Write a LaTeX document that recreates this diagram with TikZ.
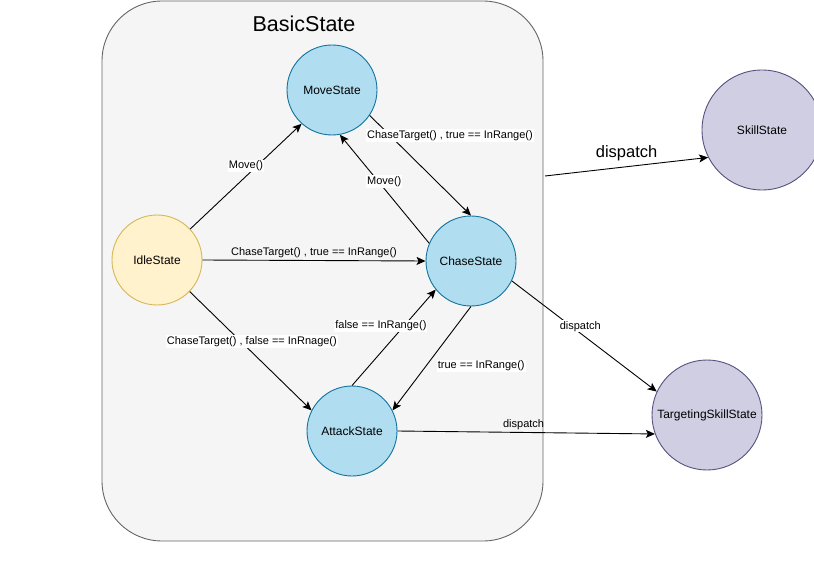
\documentclass[tikz,border=0pt]{standalone}
\usepackage{fontspec}
\setmainfont{Liberation Sans}
\usetikzlibrary{arrows.meta}
\definecolor{boxfill}{HTML}{F5F5F5}
\definecolor{boxline}{HTML}{666666}
\definecolor{bluefill}{HTML}{B1DDF0}
\definecolor{blueline}{HTML}{10739E}
\definecolor{yellowfill}{HTML}{FFF2CC}
\definecolor{yellowline}{HTML}{D6B656}
\definecolor{purplefill}{HTML}{D0CEE2}
\definecolor{purpleline}{HTML}{56517E}

\begin{document}
\begin{tikzpicture}[x=1pt,y=-1pt,>={Stealth[length=9pt,width=8pt,inset=2pt]},
  line width=0.9pt,
  state/.style={circle,draw,inner sep=0pt,minimum size=90pt,
    font=\fontsize{12}{14}\selectfont},
  movest/.style={state,fill=bluefill,draw=blueline},
  idlest/.style={state,fill=yellowfill,draw=yellowline},
  skillst/.style={state,fill=purplefill,draw=purpleline},
  lbl/.style={font=\fontsize{11}{13}\selectfont,fill=white,inner sep=1pt},
  trans/.style={->,black}]
  \useasboundingbox (0,0) rectangle (814,588);
  % container
  \node[draw=boxline,fill=boxfill,rounded corners=60pt,minimum width=441pt,
    minimum height=540pt] (basic) at (322.5,271) {};
  \node[font=\fontsize{21.5}{24}\selectfont] (title) at (304,24) {BasicState};
  % states
  \node[movest] (move) at (332,90) {MoveState};
  \node[idlest] (idle) at (157,260) {IdleState};
  \node[movest] (chase) at (471,261) {ChaseState};
  \node[movest] (attack) at (352,431) {AttackState};
  \node[skillst,minimum size=120pt] (skill) at (762,130) {SkillState};
  \node[skillst,minimum size=110pt] (target) at (707,415) {TargetingSkillState};
  \coordinate (out) at (545,176);
  % transitions
  \draw[trans] (idle.43) -- (move.-132)
    node[lbl,pos=0.6,xshift=-11pt] {Move()};
  \draw[trans] (move.-34) -- (chase.north)
    node[lbl,pos=0.2,xshift=60pt] {ChaseTarget() , true == InRange()};
  \draw[trans] (chase.157) -- (move.-80)
    node[lbl,pos=0.57,xshift=6pt] {Move()};
  \draw[trans] (idle.east) -- (chase.west)
    node[lbl,pos=0.5,above,fill=none,yshift=1pt] {ChaseTarget() , true == InRange()};
  \draw[trans] (idle.-44) -- (attack.153)
    node[lbl,pos=0.42,xshift=11pt] {ChaseTarget() , false == InRnage()};
  \draw[trans] (attack.north) -- (chase.-141)
    node[lbl,pos=0.62,xshift=-23pt] {false == InRange()};
  \draw[trans] (chase.south) -- (attack.27)
    node[lbl,pos=0.57,xshift=55pt] {true == InRange()};
  \draw[trans] (chase.-26) -- (target.155)
    node[lbl,pos=0.41,xshift=9pt] {dispatch};
  \draw[trans] (attack.east) -- (target.200)
    node[lbl,pos=0.49,above,fill=none,yshift=1pt] {dispatch};
  \draw[trans] (out) -- (skill.-153)
    node[lbl,pos=0.5,yshift=13.5pt,font=\fontsize{16.5}{18}\selectfont] {dispatch};
\end{tikzpicture}
\end{document}
